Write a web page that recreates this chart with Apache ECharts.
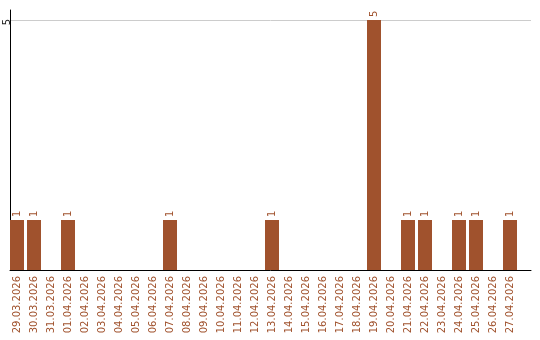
<!DOCTYPE html>
<html><head><meta charset="utf-8">
<script src="https://cdn.jsdelivr.net/npm/echarts@6/dist/echarts.min.js"></script>
<style>html,body{margin:0;padding:0;background:#fff}#c{width:540px;height:340px}</style>
</head><body><div id="c"></div>
<script>
const categories = ["29.03.2026","30.03.2026","31.03.2026","01.04.2026","02.04.2026","03.04.2026","04.04.2026","05.04.2026","06.04.2026","07.04.2026","08.04.2026","09.04.2026","10.04.2026","11.04.2026","12.04.2026","13.04.2026","14.04.2026","15.04.2026","16.04.2026","17.04.2026","18.04.2026","19.04.2026","20.04.2026","21.04.2026","22.04.2026","23.04.2026","24.04.2026","25.04.2026","26.04.2026","27.04.2026"];
const values = [1,1,0,1,0,0,0,0,0,1,0,0,0,0,0,1,0,0,0,0,0,5,0,1,1,0,1,1,0,1];
const yTicks = [0,5];
const brown = '#a0522d';
const font = 'DejaVu Sans';
const chart = echarts.init(document.getElementById('c'));
chart.setOption({
  animation:false,
  grid:[
    {left:8.5,right:21.5,top:20,bottom:70},
    {left:10,right:9,top:20,bottom:70},
    {left:10,right:9,top:10,bottom:70}
  ],
  xAxis:[
    {type:'category',gridIndex:0,data:categories,boundaryGap:true,
     axisLine:{show:false},axisTick:{show:false},
     axisLabel:{rotate:90,margin:6,interval:0,color:brown,fontFamily:font,fontSize:10,padding:[0,0,5,0]}},
    {type:'value',gridIndex:1,min:0,max:1,axisLine:{show:true,lineStyle:{color:'#000',width:1}},
     axisTick:{show:false},axisLabel:{show:false},splitLine:{show:false}},
    {type:'value',gridIndex:2,min:0,max:1,show:false}
  ],
  yAxis:[
    {type:'value',gridIndex:0,min:yTicks[0],max:yTicks[yTicks.length-1],show:false},
    {type:'value',gridIndex:1,min:yTicks[0],max:yTicks[yTicks.length-1],interval:yTicks[1]-yTicks[0],
     axisLine:{show:false},axisTick:{show:false},
     splitLine:{show:true,lineStyle:{color:'#cccccc',width:1}},
     axisLabel:{rotate:90,margin:2.5,align:'center',verticalAlign:'middle',padding:[0,4,0,0],showMinLabel:false,color:'#222',fontFamily:font,fontSize:10}},
    {type:'value',gridIndex:2,min:0,max:1,axisLine:{show:true,lineStyle:{color:'#000',width:1}},
     axisTick:{show:false},axisLabel:{show:false},splitLine:{show:false}}
  ],
  series:[{
    type:'bar',xAxisIndex:0,yAxisIndex:0,data:values,barWidth:14,
    itemStyle:{color:brown},
    label:{show:true,position:'top',rotate:90,align:'left',verticalAlign:'middle',distance:3,
      color:brown,fontFamily:font,fontSize:10,
      formatter:p=>p.value>0?String(p.value):''}
  }]
});
</script></body></html>
